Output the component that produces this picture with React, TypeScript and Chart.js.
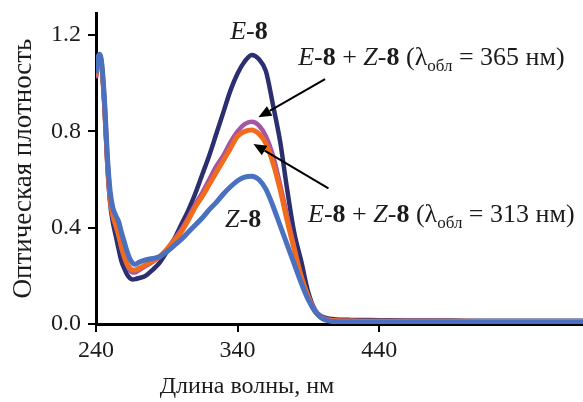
import { useEffect, useRef } from "react";
import { Chart, registerables } from "chart.js";

Chart.register(...registerables);

const wavelengths = [240, 241, 242.5, 244, 246, 248, 250, 252, 254, 256, 258, 260, 262, 264, 266, 268, 270, 275, 280, 285, 290, 295, 300, 305, 310, 315, 320, 325, 330, 335, 340, 345, 350, 355, 360, 365, 370, 375, 380, 385, 390, 395, 400, 405, 410, 420, 440, 460, 480, 500, 520, 540, 560, 584];

const absE8 = [1.03, 1.09, 1.115, 1.07, 0.9, 0.66, 0.5, 0.42, 0.365, 0.31, 0.26, 0.23, 0.205, 0.19, 0.185, 0.187, 0.19, 0.2, 0.225, 0.255, 0.3, 0.35, 0.41, 0.47, 0.54, 0.62, 0.7, 0.79, 0.88, 0.97, 1.04, 1.09, 1.117, 1.1, 1.05, 0.91, 0.76, 0.56, 0.38, 0.26, 0.13, 0.055, 0.03, 0.022, 0.019, 0.017, 0.016, 0.015, 0.015, 0.014, 0.014, 0.013, 0.013, 0.013];

const absMix365 = [1.02, 1.08, 1.11, 1.07, 0.905, 0.675, 0.515, 0.445, 0.405, 0.365, 0.315, 0.275, 0.245, 0.222, 0.214, 0.215, 0.222, 0.24, 0.258, 0.278, 0.31, 0.35, 0.39, 0.44, 0.495, 0.545, 0.6, 0.655, 0.7, 0.755, 0.8, 0.83, 0.84, 0.825, 0.78, 0.7, 0.58, 0.45, 0.32, 0.2, 0.115, 0.055, 0.027, 0.018, 0.015, 0.013, 0.012, 0.012, 0.012, 0.011, 0.011, 0.011, 0.011, 0.011];

const absMix313 = [1.03, 1.085, 1.115, 1.075, 0.91, 0.68, 0.52, 0.45, 0.41, 0.37, 0.32, 0.28, 0.25, 0.232, 0.224, 0.225, 0.23, 0.245, 0.262, 0.28, 0.31, 0.345, 0.38, 0.43, 0.485, 0.53, 0.58, 0.63, 0.68, 0.73, 0.78, 0.8, 0.806, 0.79, 0.75, 0.67, 0.56, 0.43, 0.31, 0.195, 0.11, 0.05, 0.024, 0.016, 0.013, 0.012, 0.011, 0.011, 0.011, 0.011, 0.01, 0.01, 0.01, 0.01];

const absZ8 = [1.04, 1.095, 1.12, 1.085, 0.93, 0.7, 0.55, 0.48, 0.45, 0.425, 0.38, 0.34, 0.3, 0.27, 0.252, 0.248, 0.255, 0.266, 0.272, 0.28, 0.3, 0.325, 0.35, 0.38, 0.41, 0.44, 0.475, 0.505, 0.54, 0.57, 0.595, 0.61, 0.614, 0.6, 0.56, 0.49, 0.41, 0.33, 0.25, 0.17, 0.1, 0.05, 0.022, 0.012, 0.009, 0.008, 0.007, 0.007, 0.007, 0.007, 0.006, 0.006, 0.006, 0.006];

const xTickValues = [240, 340, 440];
const yTickValues = [0, 0.4, 0.8, 1.2];

const xTitle = "Длина волны, нм";
const yTitle = "Оптическая плотность";

const SERIF = '"Liberation Serif", "Times New Roman", serif';
const TEXT = "#1c1c1c";

type Part = { t: string; i?: boolean; b?: boolean; sub?: boolean };

const labelE8: Part[] = [{ t: "E", i: true }, { t: "-" }, { t: "8", b: true }];
const labelZ8: Part[] = [{ t: "Z", i: true }, { t: "-" }, { t: "8", b: true }];
const mixLabel = (nm: string): Part[] => [
  { t: "E", i: true }, { t: "-" }, { t: "8", b: true }, { t: " + " },
  { t: "Z", i: true }, { t: "-" }, { t: "8", b: true }, { t: " (λ" },
  { t: "обл", sub: true }, { t: " = " + nm + " нм)" },
];

// annotation anchors, in data units (wavelength, absorbance)
const annotations = [
  { x: 348, y: 1.183, parts: labelE8, align: "center" },
  { x: 382.8, y: 1.076, parts: mixLabel("365"), align: "left" },
  { x: 389.8, y: 0.424, parts: mixLabel("313"), align: "left" },
  { x: 331.2, y: 0.403, parts: labelZ8, align: "left" },
];
const arrows = [
  { from: [401.8, 1.017], to: [354.7, 0.858] },
  { from: [404.2, 0.5635], to: [351.2, 0.7475] },
];

function drawRich(ctx: CanvasRenderingContext2D, x: number, y: number, parts: Part[], size: number, align: string) {
  const fontFor = (p: Part) =>
    `${p.i ? "italic " : ""}${p.b ? "bold " : ""}${p.sub ? Math.round(size * 0.66) : size}px ${SERIF}`;
  let total = 0;
  for (const p of parts) {
    ctx.font = fontFor(p);
    total += ctx.measureText(p.t).width;
  }
  let cx = align === "center" ? x - total / 2 : x;
  ctx.textAlign = "left";
  ctx.textBaseline = "alphabetic";
  for (const p of parts) {
    ctx.font = fontFor(p);
    ctx.fillText(p.t, cx, y + (p.sub ? size * 0.22 : 0));
    cx += ctx.measureText(p.t).width;
  }
}

const annotationPlugin = {
  id: "annotationsAndTitle",
  afterDraw(chart: any) {
    const { ctx, scales, chartArea } = chart;
    const xs = scales.x;
    const ys = scales.y;
    ctx.save();
    ctx.fillStyle = TEXT;
    for (const a of annotations) {
      drawRich(ctx, xs.getPixelForValue(a.x), ys.getPixelForValue(a.y), a.parts, 26, a.align);
    }
    ctx.strokeStyle = "#000";
    ctx.fillStyle = "#000";
    ctx.lineWidth = 2;
    for (const ar of arrows) {
      const x1 = xs.getPixelForValue(ar.from[0]);
      const y1 = ys.getPixelForValue(ar.from[1]);
      const x2 = xs.getPixelForValue(ar.to[0]);
      const y2 = ys.getPixelForValue(ar.to[1]);
      const ang = Math.atan2(y2 - y1, x2 - x1);
      const hl = 13;
      const hw = 5.5;
      const bx = x2 - hl * Math.cos(ang);
      const by = y2 - hl * Math.sin(ang);
      ctx.beginPath();
      ctx.moveTo(x1, y1);
      ctx.lineTo(bx, by);
      ctx.stroke();
      ctx.beginPath();
      ctx.moveTo(x2, y2);
      ctx.lineTo(bx + hw * Math.sin(ang), by - hw * Math.cos(ang));
      ctx.lineTo(bx - hw * Math.sin(ang), by + hw * Math.cos(ang));
      ctx.closePath();
      ctx.fill();
    }
    // x axis title
    ctx.fillStyle = TEXT;
    ctx.font = `24px ${SERIF}`;
    ctx.textAlign = "center";
    ctx.textBaseline = "middle";
    ctx.fillText(xTitle, chartArea.left + 151, chartArea.bottom + 63);
    ctx.restore();
  },
};

export default function App() {
  const ref = useRef<HTMLCanvasElement | null>(null);
  useEffect(() => {
    if (!ref.current) return;
    const mk = (label: string, data: number[], color: string, width: number, order: number) => ({
      label,
      data: wavelengths.map((w, i) => ({ x: w, y: data[i] })),
      borderColor: color,
      backgroundColor: color,
      borderWidth: width,
      pointRadius: 0,
      cubicInterpolationMode: "monotone" as const,
      order,
    });
    const chart = new Chart(ref.current, {
      type: "line",
      data: {
        datasets: [
          mk("E-8", absE8, "#2b2f6e", 4.5, 3),
          mk("E-8 + Z-8 (365 нм)", absMix365, "#a555a6", 4.5, 2),
          mk("E-8 + Z-8 (313 нм)", absMix313, "#f26a1b", 5, 1),
          mk("Z-8", absZ8, "#4a70c0", 5, 0),
        ],
      },
      options: {
        animation: false,
        responsive: false,
        maintainAspectRatio: false,
        layout: { padding: { top: 13, right: 0, left: 0, bottom: 0 } },
        plugins: { legend: { display: false }, tooltip: { enabled: false } },
        scales: {
          x: {
            type: "linear",
            min: 240,
            max: 584,
            afterBuildTicks: (s: any) => {
              s.ticks = xTickValues.map((v) => ({ value: v }));
            },
            afterFit: (s: any) => {
              s.height = 78;
              s.paddingLeft = 0;
              s.paddingRight = 0;
            },
            grid: { drawOnChartArea: false, drawTicks: true, tickLength: 8, color: "#000", lineWidth: 2 },
            border: { color: "#000", width: 3 },
            ticks: {
              color: TEXT,
              font: { family: SERIF, size: 24 },
              padding: 4,
              maxRotation: 0,
              callback: (v: any) => String(v),
            },
          },
          y: {
            type: "linear",
            min: 0,
            max: 1.2914,
            afterBuildTicks: (s: any) => {
              s.ticks = yTickValues.map((v) => ({ value: v }));
            },
            afterFit: (s: any) => {
              s.width = 96;
              s.paddingTop = 0;
              s.paddingBottom = 0;
            },
            grid: { drawOnChartArea: false, drawTicks: true, tickLength: 8, color: "#000", lineWidth: 2 },
            border: { color: "#000", width: 3 },
            ticks: {
              color: TEXT,
              font: { family: SERIF, size: 24 },
              padding: 7,
              callback: (v: any) => Number(v).toFixed(1),
            },
            title: {
              display: true,
              text: yTitle,
              color: TEXT,
              font: { family: SERIF, size: 27 },
              padding: { top: 8, bottom: 0 },
            },
          },
        },
      },
      plugins: [annotationPlugin],
    });
    return () => chart.destroy();
  }, []);
  return (
    <div style={{ position: "absolute", left: 0, top: 0, width: 583, height: 402, background: "#fff" }}>
      <canvas ref={ref} width={583} height={402} />
    </div>
  );
}
